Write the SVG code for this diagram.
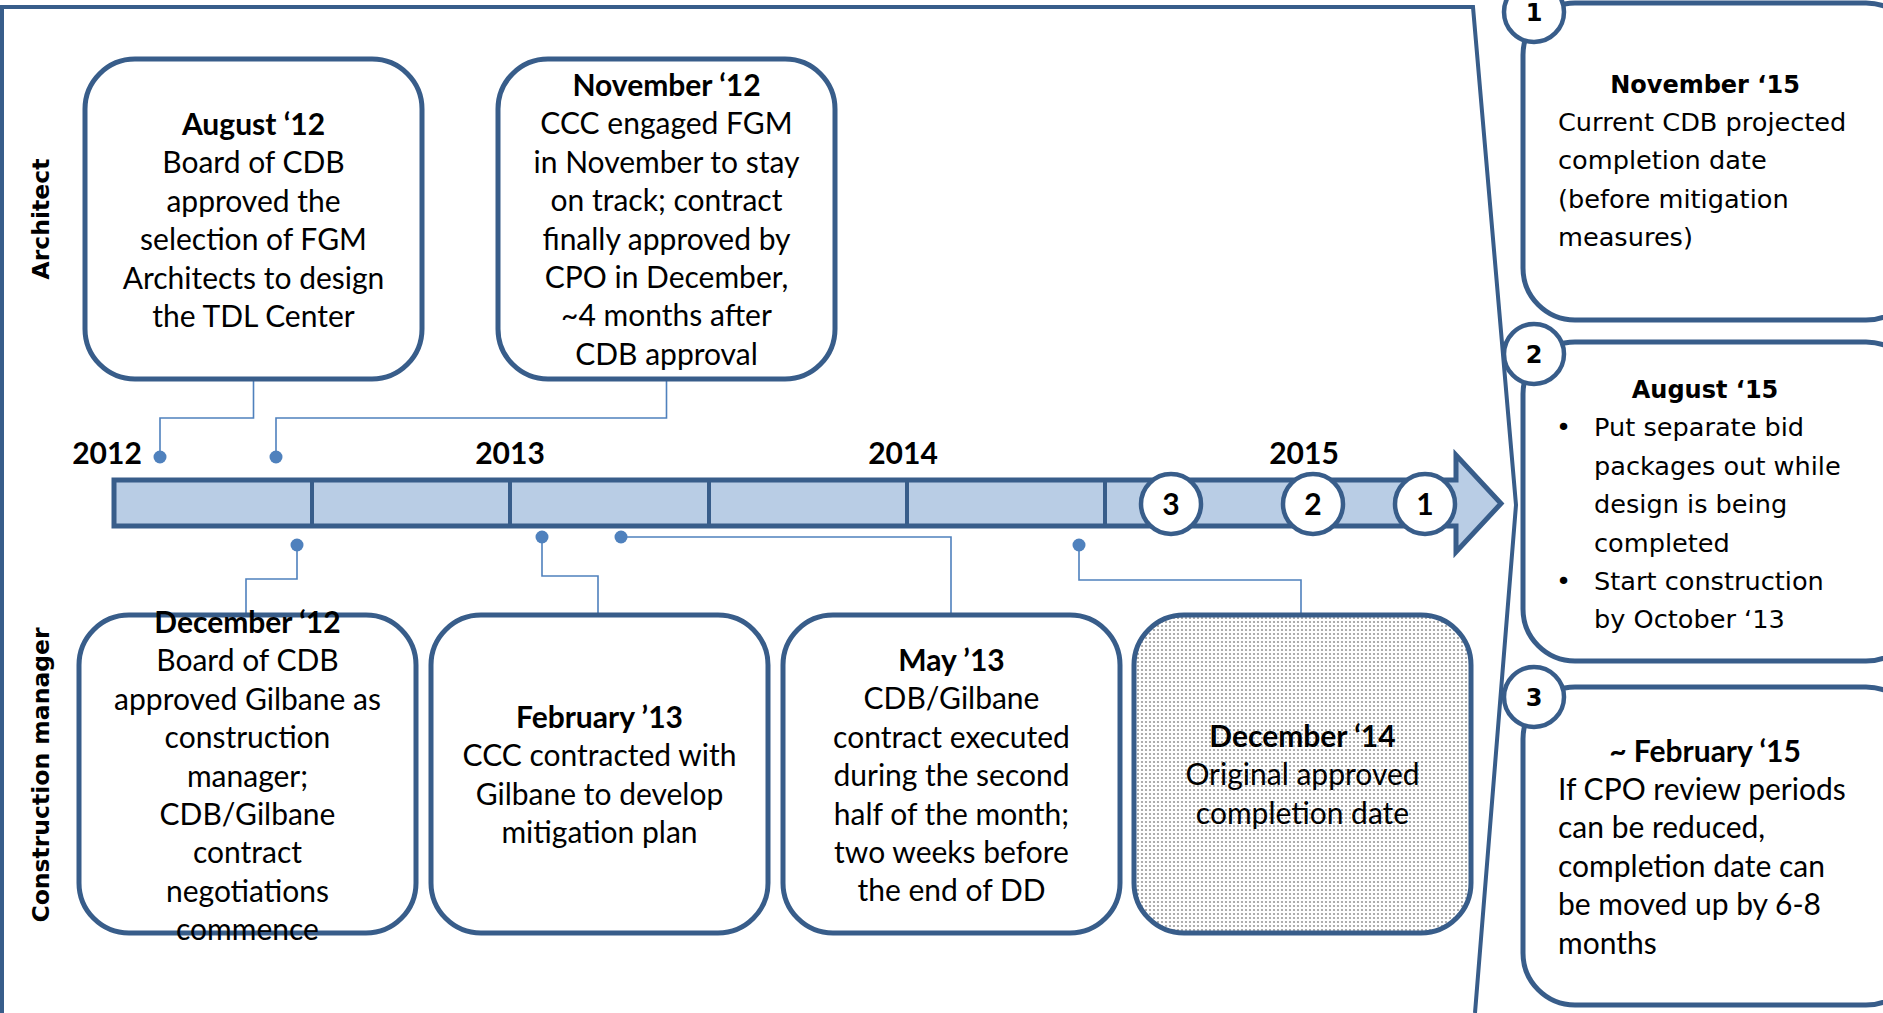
<svg xmlns="http://www.w3.org/2000/svg" width="1883" height="1013" viewBox="0 0 1883 1013">
<style>
.box{fill:#fff;stroke:#385D8A;stroke-width:5}
.frame{fill:none;stroke:#385D8A;stroke-width:4}
.conn{fill:none;stroke:#4F81BD;stroke-width:1.6}
.dot{fill:#4F81BD}
.c{font-family:Lato,"Liberation Sans",sans-serif;font-size:30px;fill:#000;text-anchor:middle}
.b{font-weight:bold}
.yr{font-family:Lato,"Liberation Sans",sans-serif;font-size:30px;font-weight:bold;fill:#000;text-anchor:middle}
.lane{font-family:"DejaVu Sans",sans-serif;font-size:23.5px;font-weight:bold;fill:#000;text-anchor:middle}
.v{font-family:"DejaVu Sans",sans-serif;font-size:25.6px;fill:#000}
.vb{font-family:"DejaVu Sans",sans-serif;font-size:24px;font-weight:bold;fill:#000;text-anchor:middle}
.cl{font-family:Lato,"Liberation Sans",sans-serif;font-size:30px;fill:#000}
.num{fill:#fff;stroke:#385D8A;stroke-width:4.5}
.div{stroke:#385D8A;stroke-width:4}
</style>
<defs>
<pattern id="dots" width="4" height="4" patternUnits="userSpaceOnUse"><rect width="4" height="4" fill="#fff"/><circle cx="2" cy="2" r="1.1" fill="#9a9a9a"/></pattern>
</defs>

<path class="frame" d="M2,1013 V7 H1473 L1516,505 L1475,1013"/>

<text class="lane" transform="translate(48.5,219) rotate(-90)">Architect</text>
<text class="lane" transform="translate(48.5,775) rotate(-90)">Construction manager</text>

<g id="timeline">
<polygon points="114,480 1456,480 1456,455 1501,503.5 1456,552 1456,526 114,526" fill="#B9CDE5" stroke="#385D8A" stroke-width="5" stroke-linejoin="miter"/>
<line class="div" x1="312" y1="480" x2="312" y2="526"/>
<line class="div" x1="510" y1="480" x2="510" y2="526"/>
<line class="div" x1="709" y1="480" x2="709" y2="526"/>
<line class="div" x1="907" y1="480" x2="907" y2="526"/>
<line class="div" x1="1105" y1="480" x2="1105" y2="526"/>
<text class="yr" x="107" y="464">2012</text>
<text class="yr" x="510" y="464">2013</text>
<text class="yr" x="903" y="464">2014</text>
<text class="yr" x="1304" y="464">2015</text>
</g>

<g id="marker-3"><ellipse class="num" cx="1171" cy="504" rx="30" ry="30"/><text class="yr" x="1171" y="515">3</text></g>
<g id="marker-2"><ellipse class="num" cx="1313" cy="504" rx="30" ry="30"/><text class="yr" x="1313" y="515">2</text></g>
<g id="marker-1"><ellipse class="num" cx="1425" cy="504" rx="30" ry="30"/><text class="yr" x="1425" y="515">1</text></g>

<g id="connectors">
<polyline class="conn" points="253.5,379 253.5,418 160,418 160,457"/>
<circle class="dot" cx="160" cy="457" r="6.5"/>
<polyline class="conn" points="666.5,379 666.5,418 276,418 276,457"/>
<circle class="dot" cx="276" cy="457" r="6.5"/>
<polyline class="conn" points="297,545 297,579 246,579 246,615"/>
<circle class="dot" cx="297" cy="545" r="6.5"/>
<polyline class="conn" points="542,537 542,576 598,576 598,615"/>
<circle class="dot" cx="542" cy="537" r="6.5"/>
<polyline class="conn" points="621,537 951,537 951,615"/>
<circle class="dot" cx="621" cy="537" r="6.5"/>
<polyline class="conn" points="1079,545 1079,580 1301,580 1301,615"/>
<circle class="dot" cx="1079" cy="545" r="6.5"/>
</g>

<g id="aug12">
<rect class="box" x="85" y="59" width="337" height="320" rx="50"/>
<text class="c" x="253.5"><tspan class="b" x="253.5" y="135">August ‘12</tspan><tspan x="253.5" y="173.4">Board of CDB</tspan><tspan x="253.5" y="211.8">approved the</tspan><tspan x="253.5" y="250.2">selection of FGM</tspan><tspan x="253.5" y="288.6">Architects to design</tspan><tspan x="253.5" y="327">the TDL Center</tspan></text>
</g>

<g id="nov12">
<rect class="box" x="498" y="59" width="337" height="320" rx="50"/>
<text class="c"><tspan class="b" x="666.5" y="96">November ‘12</tspan><tspan x="666.5" y="134.4">CCC engaged FGM</tspan><tspan x="666.5" y="172.8">in November to stay</tspan><tspan x="666.5" y="211.2">on track; contract</tspan><tspan x="666.5" y="249.6">finally approved by</tspan><tspan x="666.5" y="288">CPO in December,</tspan><tspan x="666.5" y="326.4">~4 months after</tspan><tspan x="666.5" y="364.8">CDB approval</tspan></text>
</g>

<g id="dec12">
<rect class="box" x="79" y="615" width="337" height="318" rx="50"/>
<text class="c"><tspan class="b" x="247.5" y="633">December ‘12</tspan><tspan x="247.5" y="671.4">Board of CDB</tspan><tspan x="247.5" y="709.8">approved Gilbane as</tspan><tspan x="247.5" y="748.2">construction</tspan><tspan x="247.5" y="786.6">manager;</tspan><tspan x="247.5" y="825">CDB/Gilbane</tspan><tspan x="247.5" y="863.4">contract</tspan><tspan x="247.5" y="901.8">negotiations</tspan><tspan x="247.5" y="940.2">commence</tspan></text>
</g>

<g id="feb13">
<rect class="box" x="431" y="615" width="337" height="318" rx="50"/>
<text class="c"><tspan class="b" x="599.5" y="728">February ’13</tspan><tspan x="599.5" y="766.4">CCC contracted with</tspan><tspan x="599.5" y="804.8">Gilbane to develop</tspan><tspan x="599.5" y="843.2">mitigation plan</tspan></text>
</g>

<g id="may13">
<rect class="box" x="783" y="615" width="337" height="318" rx="50"/>
<text class="c"><tspan class="b" x="951.5" y="671">May ’13</tspan><tspan x="951.5" y="709.4">CDB/Gilbane</tspan><tspan x="951.5" y="747.8">contract executed</tspan><tspan x="951.5" y="786.2">during the second</tspan><tspan x="951.5" y="824.6">half of the month;</tspan><tspan x="951.5" y="863">two weeks before</tspan><tspan x="951.5" y="901.4">the end of DD</tspan></text>
</g>

<g id="dec14">
<rect class="box" x="1134" y="615" width="337" height="318" rx="50" style="fill:url(#dots)"/>
<text class="c"><tspan class="b" x="1302.5" y="747">December ‘14</tspan><tspan x="1302.5" y="785.4">Original approved</tspan><tspan x="1302.5" y="823.8">completion date</tspan></text>
</g>

<g id="note1">
<rect class="box" x="1523" y="3" width="395" height="317" rx="52"/>
<circle class="num" cx="1534" cy="12" r="30"/>
<text class="vb" x="1534" y="21">1</text>
<text class="vb" x="1705" y="93">November ‘15</text>
<text class="v"><tspan x="1558" y="131">Current CDB projected</tspan><tspan x="1558" y="169.4">completion date</tspan><tspan x="1558" y="207.8">(before mitigation</tspan><tspan x="1558" y="246.2">measures)</tspan></text>
</g>

<g id="note2">
<rect class="box" x="1523" y="342" width="395" height="319" rx="52"/>
<circle class="num" cx="1534" cy="354" r="30"/>
<text class="vb" x="1534" y="363">2</text>
<text class="vb" x="1705" y="398">August ‘15</text>
<text class="v"><tspan x="1556" y="436.4">•</tspan><tspan x="1594" y="436.4">Put separate bid</tspan><tspan x="1594" y="474.8">packages out while</tspan><tspan x="1594" y="513.2">design is being</tspan><tspan x="1594" y="551.6">completed</tspan><tspan x="1556" y="590">•</tspan><tspan x="1594" y="590">Start construction</tspan><tspan x="1594" y="628.4">by October ‘13</tspan></text>
</g>

<g id="note3">
<rect class="box" x="1523" y="687" width="395" height="318" rx="52"/>
<circle class="num" cx="1534" cy="697" r="30"/>
<text class="vb" x="1534" y="706">3</text>
<text class="c b" x="1705" y="762">~ February ‘15</text>
<text class="cl"><tspan x="1558" y="800">If CPO review periods</tspan><tspan x="1558" y="838.4">can be reduced,</tspan><tspan x="1558" y="876.8">completion date can</tspan><tspan x="1558" y="915.2">be moved up by 6-8</tspan><tspan x="1558" y="953.6">months</tspan></text>
</g>
</svg>
